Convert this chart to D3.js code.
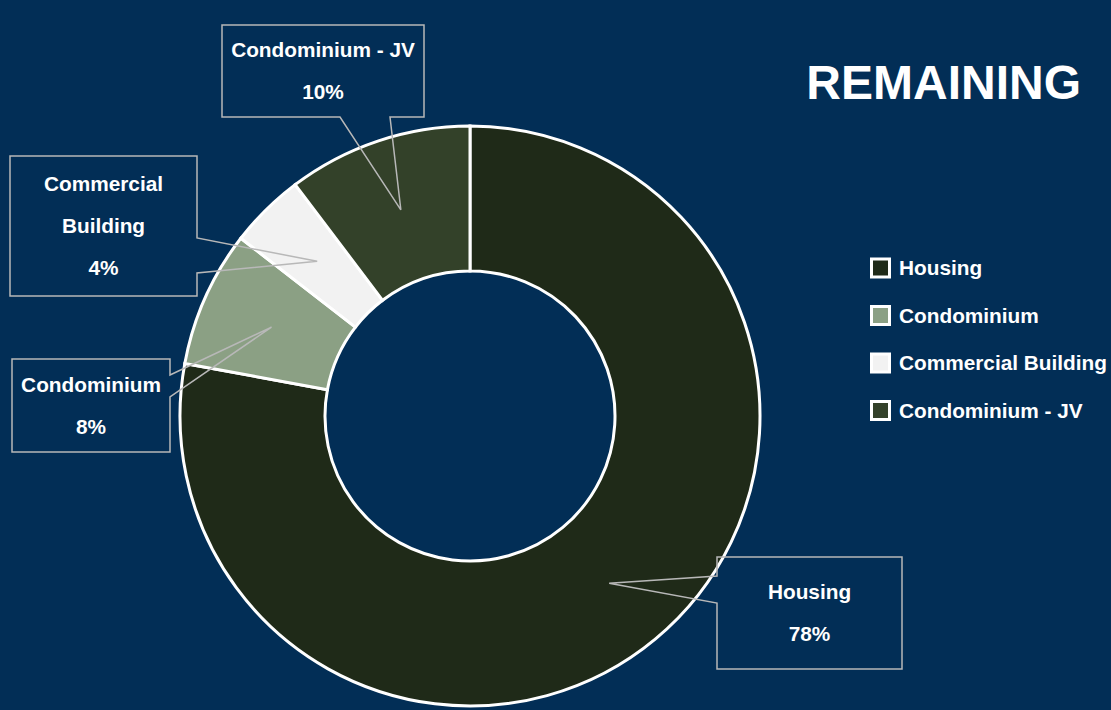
<!DOCTYPE html>
<html>
<head>
<meta charset="utf-8">
<title>Remaining</title>
<script src="https://d3js.org/d3.v7.min.js"></script>
<style>
body {
	margin: 0;
	background-color: #022e56;
	font-family: "Liberation Sans", Arial, sans-serif;
}
text {
	fill: white;
	font-weight: bold;
}
.callout {
	fill: none;
	stroke: #b8b8b8;
	stroke-width: 1.5px;
}
</style>
<script>
/* globals d3, window */
(function() {
"use strict";

const categories = ["Housing", "Condominium", "Commercial Building", "Condominium - JV"];
const values = [77.9, 7.6, 4.2, 10.3];
const colors = ["#1f2a18", "#8ba084", "#f2f2f2", "#334129"];
const labelLines = [["Housing"], ["Condominium"], ["Commercial", "Building"], ["Condominium - JV"]];

// callout boxes: box, side the pointer leaves from, and the two points on that side
const callouts = [
	{x: 717, y: 557, w: 185, h: 112, side: "left", a: 576, b: 603},
	{x: 12, y: 359, w: 158, h: 93, side: "right", a: 375, b: 397},
	{x: 10, y: 156, w: 187, h: 140, side: "right", a: 238, b: 273},
	{x: 222, y: 25, w: 202, h: 92, side: "bottom", a: 340, b: 390}
];

function calloutPath(c, tip)
{
	const p = d3.path();
	const r = c.x + c.w, btm = c.y + c.h;
	p.moveTo(c.x, c.y);
	p.lineTo(r, c.y);
	if (c.side === "right") {
		p.lineTo(r, c.a);
		p.lineTo(tip[0], tip[1]);
		p.lineTo(r, c.b);
	}
	p.lineTo(r, btm);
	if (c.side === "bottom") {
		p.lineTo(c.b, btm);
		p.lineTo(tip[0], tip[1]);
		p.lineTo(c.a, btm);
	}
	p.lineTo(c.x, btm);
	if (c.side === "left") {
		p.lineTo(c.x, c.b);
		p.lineTo(tip[0], tip[1]);
		p.lineTo(c.x, c.a);
	}
	p.closePath();
	return p.toString();
}

function main()
{
	const width = 1111, height = 710;
	const cx = 470, cy = 416, outer = 290, inner = 145;

	const svg = d3.select("body").append("svg")
		.attr("width", width)
		.attr("height", height);

	const data = categories.map((c, i) => ({name: c, value: values[i], color: colors[i], lines: labelLines[i], box: callouts[i]}));

	const pie = d3.pie().sort(null).value(d => d.value);
	const arc = d3.arc().innerRadius(inner).outerRadius(outer);
	const mid = d3.arc().innerRadius((inner + outer) / 2).outerRadius((inner + outer) / 2);
	const total = d3.sum(values);

	const g = svg.append("g").attr("transform", `translate(${cx},${cy})`);
	const arcs = pie(data);

	g.selectAll(".slice")
		.data(arcs)
		.join("path")
		.attr("class", "slice")
		.attr("d", arc)
		.attr("fill", d => d.data.color)
		.attr("stroke", "white")
		.attr("stroke-width", 3);

	// callouts
	const lab = svg.selectAll(".label")
		.data(arcs)
		.join("g")
		.attr("class", "label");

	lab.append("path")
		.attr("class", "callout")
		.attr("d", d => {
			const c = mid.centroid(d);
			return calloutPath(d.data.box, [c[0] + cx, c[1] + cy]);
		});

	lab.each(function(d) {
		const b = d.data.box;
		const lines = d.data.lines.concat([d3.format(".0%")(d.value / total)]);
		const step = 42;
		const y0 = b.y + b.h / 2 - (lines.length - 1) * step / 2;
		d3.select(this).selectAll("text")
			.data(lines)
			.join("text")
			.attr("x", b.x + b.w / 2)
			.attr("y", (t, i) => y0 + i * step)
			.attr("dy", "0.35em")
			.attr("text-anchor", "middle")
			.attr("font-size", "20.8px")
			.text(t => t);
	});

	// title
	svg.append("text")
		.attr("x", 1081)
		.attr("y", 99)
		.attr("text-anchor", "end")
		.attr("font-size", "48px")
		.text("REMAINING");

	// legend
	const legend = svg.selectAll(".legend")
		.data(data)
		.join("g")
		.attr("class", "legend")
		.attr("transform", (d, i) => `translate(870,${268 + i * 47.5})`);

	legend.append("rect")
		.attr("x", 1.5)
		.attr("y", -9)
		.attr("width", 18)
		.attr("height", 18)
		.attr("fill", d => d.color)
		.attr("stroke", "white")
		.attr("stroke-width", 3);

	legend.append("text")
		.attr("x", 29)
		.attr("y", 0)
		.attr("dy", "0.35em")
		.attr("font-size", "20.8px")
		.text(d => d.name);
}
window.addEventListener("DOMContentLoaded", main);
})();
</script>
</head>
<body>
</body>
</html>
